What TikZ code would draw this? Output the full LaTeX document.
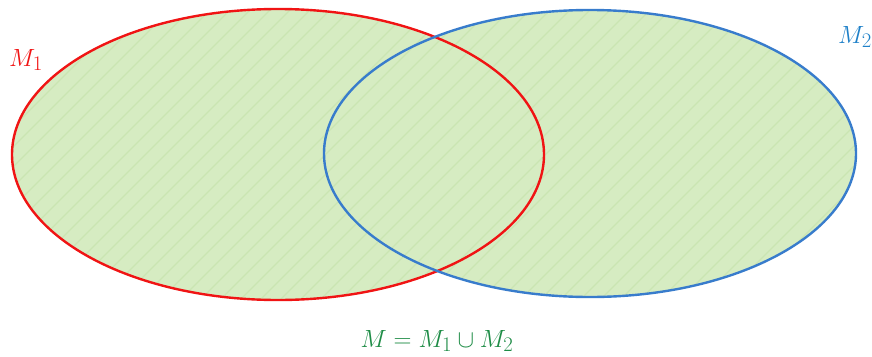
\documentclass[tikz,border=0pt]{standalone}
\usepackage{amsmath}
\definecolor{fillg}{RGB}{214,236,194}
\definecolor{hatchg}{RGB}{202,229,178}
\definecolor{redc}{RGB}{240,20,20}
\definecolor{bluec}{RGB}{56,124,204}
\definecolor{lblblue}{RGB}{30,128,200}
\definecolor{txtgreen}{RGB}{30,140,70}
\tikzset{
  setring/.style={line width=2.4pt},
  lbl/.style={inner sep=0pt, font=\fontsize{31}{33}\selectfont}
}
\begin{document}
\begin{tikzpicture}[x=1pt,y=-1pt]
\useasboundingbox (0,0) rectangle (872,356);
% fill union
\fill[fillg] (278,154.5) ellipse [x radius=266, y radius=145.5];
\fill[fillg] (590,153.5) ellipse [x radius=266, y radius=143.5];
\begin{scope}
\clip (278,154.5) ellipse [x radius=266, y radius=145.5]
      (590,153.5) ellipse [x radius=266, y radius=143.5];
\foreach \k in {-400,-380,...,1300}{
  \draw[hatchg, line width=1.3pt] (\k,320) -- (\k+320,0);
}
\end{scope}
\draw[redc, setring] (278,154.5) ellipse [x radius=266, y radius=145.5];
\draw[bluec, setring] (590,153.5) ellipse [x radius=266, y radius=143.5];
\node[lbl, text=redc, anchor=base west] (m1) at (9,66) {$M_1$};
\node[lbl, text=lblblue, anchor=base east] (m2) at (872,43) {$M_2$};
\node[lbl, text=txtgreen, anchor=base] (m) at (437,347) {$M = M_1 \cup M_2$};
\end{tikzpicture}
\end{document}
